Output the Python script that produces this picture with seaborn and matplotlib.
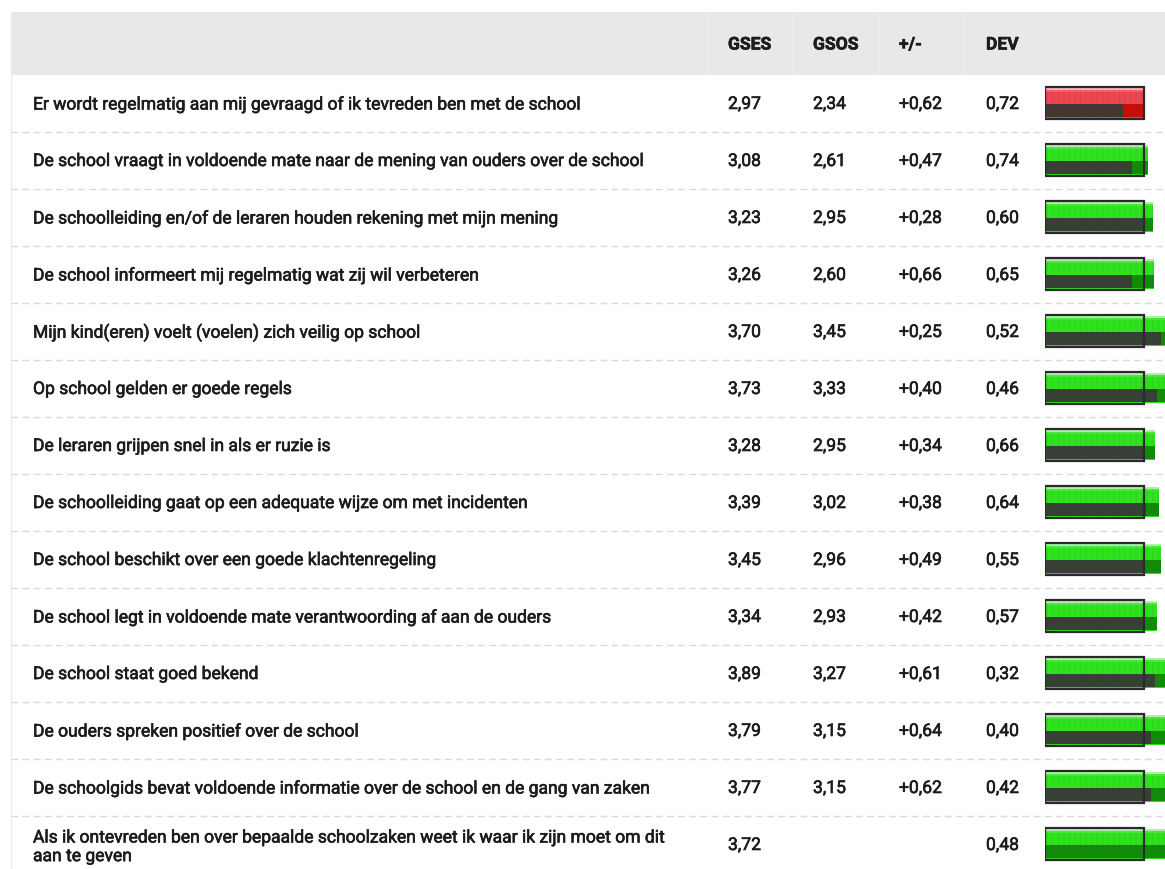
import numpy as np
import pandas as pd
import seaborn as sns
import matplotlib.pyplot as plt
import matplotlib.patheffects as pe

# vragen + scores (GSES = school, GSOS = landelijk)
labels = [
    "Er wordt regelmatig aan mij gevraagd of ik tevreden ben met de school",
    "De school vraagt in voldoende mate naar de mening van ouders over de school",
    "De schoolleiding en/of de leraren houden rekening met mijn mening",
    "De school informeert mij regelmatig wat zij wil verbeteren",
    "Mijn kind(eren) voelt (voelen) zich veilig op school",
    "Op school gelden er goede regels",
    "De leraren grijpen snel in als er ruzie is",
    "De schoolleiding gaat op een adequate wijze om met incidenten",
    "De school beschikt over een goede klachtenregeling",
    "De school legt in voldoende mate verantwoording af aan de ouders",
    "De school staat goed bekend",
    "De ouders spreken positief over de school",
    "De schoolgids bevat voldoende informatie over de school en de gang van zaken",
    "Als ik ontevreden ben over bepaalde schoolzaken weet ik waar ik zijn moet om dit\naan te geven",
]
gses = [2.97, 3.08, 3.23, 3.26, 3.70, 3.73, 3.28, 3.39, 3.45, 3.34, 3.89, 3.79, 3.77, 3.72]
gsos = [2.34, 2.61, 2.95, 2.60, 3.45, 3.33, 2.95, 3.02, 2.96, 2.93, 3.27, 3.15, 3.15, np.nan]
verschil = [0.62, 0.47, 0.28, 0.66, 0.25, 0.40, 0.34, 0.38, 0.49, 0.42, 0.61, 0.64, 0.62, np.nan]
dev = [0.72, 0.74, 0.60, 0.65, 0.52, 0.46, 0.66, 0.64, 0.55, 0.57, 0.32, 0.40, 0.42, 0.48]
headers = ["GSES", "GSOS", "+/-", "DEV"]
norm = 3.0          # onder deze score wordt de balk rood
frame_max = 2.95    # breedte van het kader

df = pd.DataFrame({"vraag": labels, "GSES": gses, "GSOS": gsos})
n = len(df)
idx = np.arange(n)

sns.set_theme(style="white")
plt.rcParams["font.family"] = ["Roboto", "DejaVu Sans"]

W, H = 1165, 869
pitch = 57.0
row0 = 103.0
ylim = ((H - row0) / pitch, -row0 / pitch)

fig = plt.figure(figsize=(W / 100, H / 100), dpi=100)
fig.patch.set_facecolor("white")

# tabel-as in pixels (x) en rijen (y)
ax = fig.add_axes([0, 0, 1, 1])
ax.set_xlim(0, W)
ax.set_ylim(*ylim)
ax.axis("off")

head_top = (12 - row0) / pitch
head_bot = (75 - row0) / pitch
head_y = (head_top + head_bot) / 2
ax.fill_between([11, W], head_top, head_bot, color="#e8e8e8", lw=0, zorder=0)
ax.vlines([707, 792, 879, 964], head_top, head_bot, colors="#f1f1f1", lw=1.0, zorder=1)
ax.vlines(11, head_top, ylim[0], colors="#ececec", lw=1, zorder=1)
ax.hlines(idx + 0.5, 11, W, colors="#dadada", linestyles=(0, (5, 3)), lw=1.0, zorder=1)

# medium gewicht nabootsen met een dunne omlijning
medium = [pe.withStroke(linewidth=0.45, foreground="#1c1c1c")]
txt = dict(va="center_baseline", color="#1c1c1c", fontsize=12.6,
           path_effects=medium)
col_x = [728, 813, 899, 986]
for x, h in zip(col_x, headers):
    ax.text(x, head_y, h, fontweight="bold", **txt)


def fmt(v, sign=False):
    if np.isnan(v):
        return ""
    s = f"{v:+.2f}" if sign else f"{v:.2f}"
    return s.replace(".", ",")


for i in idx:
    ax.text(33, i, labels[i], linespacing=1.3, **txt)
    ax.text(col_x[0], i, fmt(gses[i]), **txt)
    ax.text(col_x[1], i, fmt(gsos[i]), **txt)
    ax.text(col_x[2], i, fmt(verschil[i], sign=True), **txt)
    ax.text(col_x[3], i, fmt(dev[i]), **txt)

# balkjes
bx = fig.add_axes([1045 / W, 0, (W - 1045) / W, 1])
top_cols = ["#ec4650" if v < norm else "#2fe21e" for v in gses]
bot_cols = ["#c80c0c" if v < norm else "#118a09" for v in gses]

plt.rcParams["hatch.linewidth"] = 0.6
sns.barplot(data=df, x="GSES", y="vraag", hue="vraag", palette=top_cols,
            legend=False, saturation=1, width=0.53, errorbar=None,
            linewidth=0, edgecolor=(0, 0, 0, 0.07), hatch="|||", ax=bx)
bx.barh(idx - 0.25, gses, height=0.03, color="white", alpha=0.6, lw=0)
bx.barh(idx - 0.215, gses, height=0.04, color="white", alpha=0.15, lw=0)
bx.barh(idx + 0.135, gses, height=0.235, color=bot_cols, lw=0)
bx.barh(idx + 0.135, np.nan_to_num(gsos), height=0.235, color="#3a3a3a",
        alpha=0.92, lw=0)
bx.barh(idx, frame_max, height=0.55, fill=False, edgecolor="#2a2a2a", lw=1.6)

bx.set_xlim(0, (W - 1045) / 33.5)
bx.set_ylim(*ylim)
bx.axis("off")

fig.savefig("out.png", dpi=100, facecolor="white")
